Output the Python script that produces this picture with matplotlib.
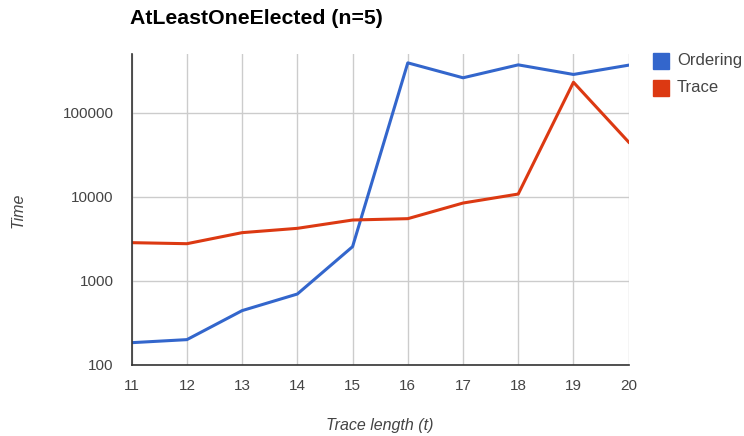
import matplotlib
matplotlib.use('Agg')
from matplotlib import pyplot as plt
from matplotlib.patches import Rectangle

plt.rcParams['font.family'] = ['Liberation Sans', 'DejaVu Sans']

# data
lengths = [11, 12, 13, 14, 15, 16, 17, 18, 19, 20]
ordering = [184, 200, 443, 698, 2555, 393000, 261000, 372000, 286000, 369000]
trace = [2850, 2770, 3750, 4220, 5300, 5500, 8440, 10800, 231000, 44800]
yticks = [100, 1000, 10000, 100000]

blue = '#3366cc'
red = '#dc3912'
grey = '#444444'

fig = plt.figure(figsize=(7.44, 4.36), dpi=100)
ax = fig.add_axes([0.177, 0.163, 0.668, 0.713])

ax.set_yscale('log')
ax.set_ylim(100, 500000)
ax.set_xlim(11, 20)

line1, = ax.plot(lengths, ordering, color=blue, lw=2.2, solid_joinstyle='round')
line2, = ax.plot(lengths, trace, color=red, lw=2.2, solid_joinstyle='round')

ax.set_xticks(lengths)
ax.set_xticklabels([str(x) for x in lengths])
ax.set_yticks(yticks)
ax.set_yticklabels([str(y) for y in yticks])
ax.minorticks_off()
ax.tick_params(length=0, labelsize=11, colors=grey)
ax.tick_params(axis='x', pad=10)
ax.tick_params(axis='y', pad=13)

ax.grid(True, color='#cccccc', lw=1)
ax.set_axisbelow(True)
for s in ['top', 'right']:
    ax.spines[s].set_visible(False)
for s in ['left', 'bottom']:
    ax.spines[s].set_color('#333333')
    ax.spines[s].set_linewidth(1.2)

# axis titles placed where the reference has them
fig.text(380/744, 1 - 425/436, 'Trace length (t)', fontsize=11.5, style='italic',
         color=grey, ha='center', va='center')
fig.text(18/744, 1 - 210/436, 'Time', fontsize=11.5, style='italic', color=grey,
         ha='center', va='center', rotation=90)

fig.text(130/744, 1 - 18/436, 'AtLeastOneElected (n=5)', fontsize=15.3, weight='bold',
         ha='left', va='center', color='black')

# legend drawn like the google chart one
labels = ['Ordering', 'Trace']
colors = [blue, red]
for i in range(2):
    yc = 61 + i * 27
    fig.patches.append(Rectangle((653/744, 1 - (yc + 8)/436), 16/744, 16/436,
                                 transform=fig.transFigure, color=colors[i]))
    fig.text(677/744, 1 - yc/436, labels[i], fontsize=12, color=grey,
             ha='left', va='center')

plt.savefig('out.png', dpi=100)
